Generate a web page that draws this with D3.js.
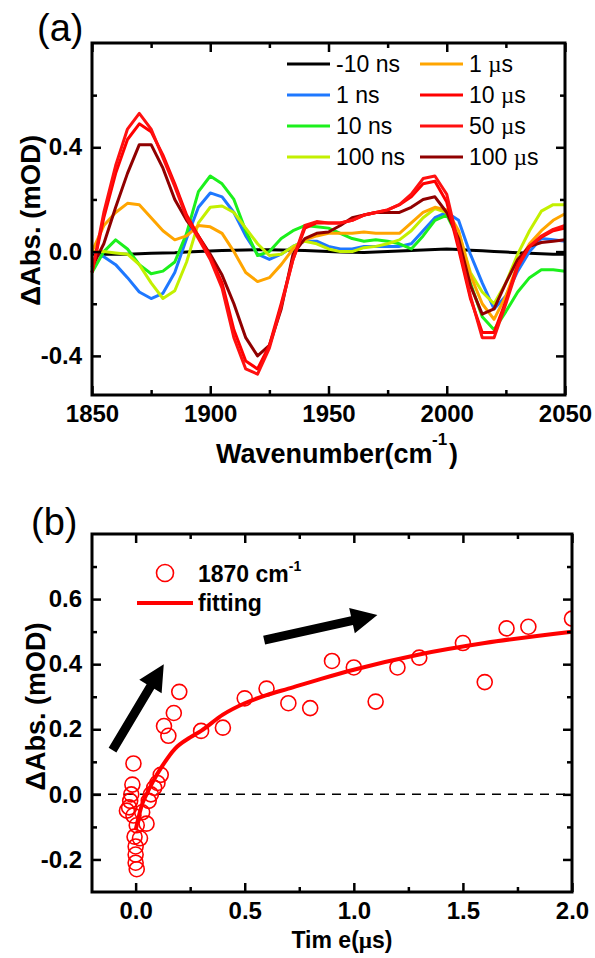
<!DOCTYPE html>
<html>
<head>
<meta charset="utf-8">
<script src="https://cdn.jsdelivr.net/npm/d3@7"></script>
<style>
body { margin: 0; background: #fff; }
svg { display: block; }
text { font-family: "Liberation Sans", Arial, sans-serif; fill: #000; }
</style>
</head>
<body>
<svg id="chart" width="595" height="958"></svg>
<script>
// ---- panel (a): transient spectra ----
const wavenumbers = [1850,1855,1860,1865,1870,1875,1880,1885,1890,1895,1900,1905,1910,1915,1920,1925,1930,1935,1940,1945,1950,
  1955,1960,1965,1970,1975,1980,1985,1990,1995,2000,2005,2010,2015,2020,2025,2030,2035,2040,2045,2050]
const sNeg10ns = [-0.01,-0.01,-0.01,-0.01,-0.008,-0.006,-0.005,-0.004,-0.002,0,0.002,0.004,0.005,0.006,0.007,0.007,0.006,0.005,0.004,0.002,0,
  -0.002,-0.003,-0.003,-0.002,0,0.002,0.004,0.006,0.008,0.01,0.008,0.005,0.003,0,-0.002,-0.004,-0.006,-0.008,-0.01,-0.01]
const s1ns = [0,-0.02,-0.05,-0.1,-0.155,-0.18,-0.16,-0.08,0.05,0.17,0.225,0.21,0.15,0.06,-0.01,-0.03,-0.01,0.02,0.04,0.04,0.02,
  0.01,0.01,0.02,0.02,0.02,0.02,0.03,0.08,0.13,0.15,0.12,-0.01,-0.12,-0.22,-0.17,-0.075,0,0.05,0.045,0.04]
const s10ns = [-0.08,0,0.045,0.01,-0.05,-0.085,-0.075,-0.04,0.07,0.23,0.29,0.26,0.2,0.08,-0.015,0,0.05,0.08,0.1,0.095,0.09,
  0.07,0.05,0.04,0.045,0.04,0.03,0.01,0.06,0.12,0.14,0.05,-0.12,-0.25,-0.3,-0.23,-0.155,-0.1,-0.07,-0.07,-0.075]
const s100ns = [0,0,-0.005,-0.01,-0.05,-0.12,-0.18,-0.15,-0.04,0.11,0.17,0.175,0.15,0.09,0.03,-0.015,-0.01,0.02,0.04,0.03,0.01,
  0,0,0.015,0.02,0.03,0.045,0.08,0.13,0.165,0.15,0.075,-0.08,-0.155,-0.2,-0.12,-0.01,0.08,0.155,0.18,0.18]
const s1us = [0,0.1,0.15,0.185,0.18,0.13,0.08,0.045,0.06,0.1,0.095,0.07,0,-0.08,-0.115,-0.1,-0.05,0.01,0.045,0.06,0.07,
  0.07,0.07,0.075,0.07,0.07,0.07,0.11,0.15,0.17,0.16,0.08,-0.09,-0.2,-0.26,-0.17,-0.05,0.03,0.08,0.12,0.145]
const s10us = [-0.08,0.13,0.3,0.43,0.49,0.46,0.37,0.26,0.14,0.06,-0.02,-0.12,-0.3,-0.42,-0.45,-0.36,-0.2,-0.03,0.09,0.11,0.11,
  0.11,0.12,0.14,0.15,0.16,0.18,0.21,0.26,0.27,0.19,0.01,-0.18,-0.31,-0.31,-0.19,-0.05,0.02,0.055,0.08,0.09]
const s50us = [-0.08,0.15,0.33,0.47,0.53,0.47,0.36,0.25,0.13,0.05,-0.03,-0.14,-0.33,-0.45,-0.47,-0.37,-0.21,-0.03,0.1,0.115,0.11,
  0.11,0.12,0.14,0.15,0.16,0.18,0.22,0.28,0.29,0.22,0.025,-0.17,-0.33,-0.33,-0.2,-0.06,0.02,0.06,0.085,0.1]
const s100us = [-0.06,0.03,0.17,0.3,0.41,0.41,0.32,0.2,0.12,0.06,-0.01,-0.09,-0.2,-0.33,-0.4,-0.36,-0.22,-0.01,0.05,0.07,0.075,
  0.1,0.13,0.14,0.15,0.15,0.15,0.17,0.2,0.21,0.15,0.05,-0.13,-0.24,-0.22,-0.12,-0.03,0.02,0.035,0.04,0.045]

const seriesLabels = ['-10 ns', '1 ns', '10 ns', '100 ns', '1 µs', '10 µs', '50 µs', '100 µs']
const seriesValues = [sNeg10ns, s1ns, s10ns, s100ns, s1us, s10us, s50us, s100us]
const seriesColors = ['#000000', '#1e78ff', '#1cf01c', '#c3f000', '#ffa500', '#ff0000', '#ff1010', '#900000']
const drawOrder = [0, 1, 2, 3, 4, 7, 5, 6]

// ---- panel (b): kinetics at 1870 cm-1 ----
const kinTime = [-0.04,-0.03,-0.025,-0.02,-0.015,-0.01,-0.01,-0.005,0,0,0,0.005,0.005,0.02,0.03,0.05,0.06,0.07,0.085,0.1,0.115,
  0.13,0.15,0.175,0.2,0.3,0.4,0.5,0.6,0.7,0.8,0.9,1.0,1.1,1.2,1.3,1.5,1.6,1.7,1.8,2.0]
const kinAbs = [-0.05,-0.04,-0.02,0,0.03,0.095,-0.065,-0.13,-0.16,-0.185,-0.21,-0.23,-0.095,-0.135,-0.055,-0.09,-0.02,0,0.02,0.035,0.06,
  0.21,0.18,0.25,0.315,0.195,0.205,0.295,0.325,0.28,0.265,0.41,0.39,0.285,0.39,0.42,0.465,0.345,0.51,0.515,0.54]
const fitTime = [0,0.01,0.03,0.05,0.08,0.12,0.18,0.25,0.3,0.4,0.5,0.6,0.7,0.85,1.0,1.3,1.6,2.0]
const fitAbs = [-0.11,-0.08,-0.03,0,0.04,0.085,0.14,0.175,0.195,0.245,0.28,0.305,0.325,0.355,0.383,0.43,0.465,0.5]
const arrowTails = [[-0.106, 0.136], [0.589, 0.474]]
const arrowTips = [[0.129, 0.40], [1.108, 0.551]]

const svg = d3.select('#chart')
const fmt1 = (d) => d.toFixed(1)

// draws the frame and inward ticks on all four sides
const drawFrame = (g, x, y, opt) => {
  const w = x.range()[1] - x.range()[0]
  const h = y.range()[0] - y.range()[1]
  const tickStyle = (sel) => {
    sel.select('.domain').remove()
    sel.selectAll('line').attr('stroke', '#000').attr('stroke-width', 2.5)
    sel.selectAll('text').style('font-size', '24px').style('font-weight', 'bold')
  }
  g.append('g').attr('transform', `translate(0,${h})`)
    .call(d3.axisBottom(x).tickValues(opt.xMinor).tickSize(-5).tickFormat('')).call(tickStyle)
  g.append('g').attr('transform', `translate(0,${h})`)
    .call(d3.axisBottom(x).tickValues(opt.xMajor).tickSize(-9).tickPadding(10).tickFormat(opt.xFormat)).call(tickStyle)
  g.append('g').call(d3.axisTop(x).tickValues(opt.xMinor).tickSize(-5).tickFormat('')).call(tickStyle)
  g.append('g').call(d3.axisTop(x).tickValues(opt.xMajor).tickSize(-9).tickFormat('')).call(tickStyle)
  g.append('g').call(d3.axisLeft(y).tickValues(opt.yMinor).tickSize(-5).tickFormat('')).call(tickStyle)
  g.append('g').call(d3.axisLeft(y).tickValues(opt.yMajor).tickSize(-9).tickPadding(10).tickFormat(fmt1)).call(tickStyle)
  g.append('g').attr('transform', `translate(${w},0)`)
    .call(d3.axisRight(y).tickValues(opt.yMinor).tickSize(-5).tickFormat('')).call(tickStyle)
  g.append('g').attr('transform', `translate(${w},0)`)
    .call(d3.axisRight(y).tickValues(opt.yMajor).tickSize(-9).tickFormat('')).call(tickStyle)
  g.append('rect').attr('width', w).attr('height', h)
    .attr('fill', 'none').attr('stroke', '#000').attr('stroke-width', 3)
}

// ================= panel (a) =================
const aLeft = 92, aTop = 43, aW = 473, aH = 352
const xA = d3.scaleLinear().domain([1850, 2050]).range([0, aW])
const yA = d3.scaleLinear().domain([-0.55, 0.8]).range([aH, 0])
const gA = svg.append('g').attr('transform', `translate(${aLeft},${aTop})`)

const lineA = (vals) => d3.line()
  .x((d, i) => xA(wavenumbers[i]))
  .y((d) => yA(d))(vals)

gA.selectAll('path.spec')
  .data(drawOrder)
  .enter()
  .append('path')
  .attr('class', 'spec')
  .attr('d', (k) => lineA(seriesValues[k]))
  .attr('fill', 'none')
  .attr('stroke', (k) => seriesColors[k])
  .attr('stroke-width', 3)
  .attr('stroke-linejoin', 'round')

drawFrame(gA, xA, yA, {
  xMajor: [1850, 1900, 1950, 2000, 2050], xMinor: [1875, 1925, 1975, 2025], xFormat: d3.format('d'),
  yMajor: [-0.4, 0, 0.4], yMinor: [-0.2, 0.2, 0.6]
})

// legend (a)
const legA = gA.append('g')
seriesLabels.forEach((lab, i) => {
  const col = Math.floor(i / 4), row = i % 4
  const lx = 195 + col * 133, ly = 21 + row * 31
  legA.append('line').attr('x1', lx).attr('x2', lx + 43).attr('y1', ly).attr('y2', ly)
    .attr('stroke', seriesColors[i]).attr('stroke-width', 3)
  const t = legA.append('text').attr('x', lx + 49).attr('y', ly + 8).style('font-size', '23px')
  const parts = lab.split('µ')
  t.append('tspan').text(parts[0])
  if (parts.length > 1) {
    t.append('tspan').style('font-family', '"Liberation Serif", serif').text('µ')
    t.append('tspan').text(parts[1])
  }
})

// titles (a)
svg.append('text').attr('x', 37).attr('y', 41).style('font-size', '38px').text('(a)')
svg.append('text')
  .attr('transform', `translate(40,${aTop + yA(0.12)}) rotate(-90)`)
  .attr('text-anchor', 'middle').style('font-size', '27.5px').style('font-weight', 'bold')
  .text('ΔAbs. (mOD)')
const xTitleA = svg.append('text').style('font-weight', 'bold')
xTitleA.append('tspan').attr('x', 216).attr('y', 463).style('font-size', '27px').text('Wavenumber(cm')
xTitleA.append('tspan').attr('x', 432).attr('y', 445).style('font-size', '17px').text('-1')
xTitleA.append('tspan').attr('x', 449).attr('y', 463).style('font-size', '27px').text(')')

// ================= panel (b) =================
const bLeft = 92, bTop = 534, bW = 480, bH = 358
const xB = d3.scaleLinear().domain([-0.2, 2.0]).range([0, bW])
const yB = d3.scaleLinear().domain([-0.3, 0.8]).range([bH, 0])
const gB = svg.append('g').attr('transform', `translate(${bLeft},${bTop})`)

gB.append('clipPath').attr('id', 'clipB')
  .append('rect').attr('width', bW).attr('height', bH)

gB.append('line')
  .attr('x1', 0).attr('x2', bW).attr('y1', yB(0)).attr('y2', yB(0))
  .attr('stroke', '#000').attr('stroke-width', 1.5).attr('stroke-dasharray', '9,7')

gB.append('g').attr('clip-path', 'url(#clipB)')
  .selectAll('circle')
  .data(kinTime)
  .enter()
  .append('circle')
  .attr('cx', (d) => xB(d))
  .attr('cy', (d, i) => yB(kinAbs[i]))
  .attr('r', 7.5)
  .attr('fill', 'none')
  .attr('stroke', '#ff0000')
  .attr('stroke-width', 1.6)

gB.append('path')
  .attr('d', d3.line().curve(d3.curveMonotoneX)
    .x((d) => xB(d))
    .y((d, i) => yB(fitAbs[i]))(fitTime))
  .attr('fill', 'none')
  .attr('stroke', '#ff0000')
  .attr('stroke-width', 4)

// arrows
const arrowPath = (tail, tip) => {
  const x0 = xB(tail[0]), y0 = yB(tail[1]), x1 = xB(tip[0]), y1 = yB(tip[1])
  const len = Math.hypot(x1 - x0, y1 - y0)
  const ux = (x1 - x0) / len, uy = (y1 - y0) / len
  const nx = -uy, ny = ux
  const sw = 4.5, hw = 13, hl = 26
  const bx = x1 - ux * hl, by = y1 - uy * hl
  const pts = [
    [x0 + nx * sw, y0 + ny * sw], [bx + nx * sw, by + ny * sw], [bx + nx * hw, by + ny * hw],
    [x1, y1],
    [bx - nx * hw, by - ny * hw], [bx - nx * sw, by - ny * sw], [x0 - nx * sw, y0 - ny * sw]
  ]
  return 'M' + pts.map((p) => p.join(',')).join('L') + 'Z'
}
gB.selectAll('path.arrow')
  .data(arrowTails)
  .enter()
  .append('path')
  .attr('class', 'arrow')
  .attr('d', (d, i) => arrowPath(d, arrowTips[i]))
  .attr('fill', '#000')

drawFrame(gB, xB, yB, {
  xMajor: [0, 0.5, 1.0, 1.5, 2.0], xMinor: [0.25, 0.75, 1.25, 1.75], xFormat: fmt1,
  yMajor: [-0.2, 0, 0.2, 0.4, 0.6], yMinor: [-0.1, 0.1, 0.3, 0.5, 0.7]
})

// legend (b)
gB.append('circle').attr('cx', 73).attr('cy', 39).attr('r', 8.5)
  .attr('fill', 'none').attr('stroke', '#ff0000').attr('stroke-width', 1.6)
gB.append('line').attr('x1', 45).attr('x2', 101).attr('y1', 69).attr('y2', 69)
  .attr('stroke', '#ff0000').attr('stroke-width', 4)
const legB1 = gB.append('text').attr('x', 106).attr('y', 48)
  .style('font-size', '23px').style('font-weight', 'bold')
legB1.append('tspan').text('1870 cm')
legB1.append('tspan').attr('dy', -11).style('font-size', '14px').text('-1')
gB.append('text').attr('x', 106).attr('y', 77)
  .style('font-size', '23px').style('font-weight', 'bold').text('fitting')

// titles (b)
svg.append('text').attr('x', 31).attr('y', 535).style('font-size', '38px').text('(b)')
svg.append('text')
  .attr('transform', `translate(45,${bTop + yB(0.27)}) rotate(-90)`)
  .attr('text-anchor', 'middle').style('font-size', '27px').style('font-weight', 'bold')
  .text('ΔAbs. (mOD)')
const xTitleB = svg.append('text').attr('x', 342).attr('y', 948)
  .attr('text-anchor', 'middle').style('font-size', '23px').style('font-weight', 'bold')
xTitleB.append('tspan').text('Tim e(')
xTitleB.append('tspan').style('font-family', '"Liberation Serif", serif').text('µ')
xTitleB.append('tspan').text('s)')
</script>
</body>
</html>
